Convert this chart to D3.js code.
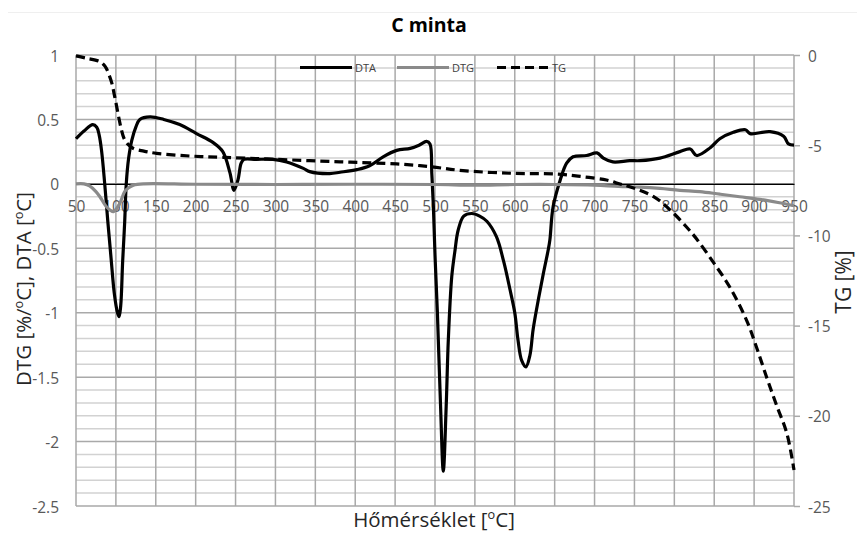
<!DOCTYPE html>
<html>
<head>
<meta charset="utf-8">
<script src="https://cdn.jsdelivr.net/npm/d3@7"></script>
<style>
  body { margin: 0; background: #fff; }
  svg { display: block; font-family: "Open Sans", "Liberation Sans", sans-serif; }
</style>
</head>
<body>
<svg id="chart" width="857" height="534"></svg>
<script>
// Axis ticks
const xTicks = [50, 100, 150, 200, 250, 300, 350, 400, 450, 500, 550, 600, 650, 700, 750, 800, 850, 900, 950];
const leftTicks = [1, 0.5, 0, -0.5, -1, -1.5, -2, -2.5];
const rightTicks = [0, -5, -10, -15, -20, -25];
const seriesNames = ["DTA", "DTG", "TG"];

// DTA [°C] against temperature
const dtaTemp = [50, 60, 71, 76, 79, 82, 86, 90, 94, 98, 102, 104, 106, 108.5, 111, 113, 116, 120, 125, 130, 143, 160, 180, 201, 222, 234, 243, 248, 253, 257, 260.5, 276, 297, 314, 335, 343, 368, 381, 402, 418, 435, 452, 469, 480, 489.5, 493.7, 496, 498, 500, 503, 507, 510.4, 514, 516.7, 521, 525, 529, 536, 546, 556, 565, 577, 586, 594, 600, 604, 608.6, 614, 619, 623, 629.5, 636, 642, 644, 648, 657, 665, 673, 690, 703, 711, 723, 744, 757, 782, 807, 820, 828, 845, 857, 874, 889, 895, 920, 937, 943, 950];
const dtaVal = [0.35, 0.41, 0.46, 0.44, 0.38, 0.26, 0.0, -0.3, -0.58, -0.85, -1.0, -1.03, -0.95, -0.6, -0.3, 0.0, 0.2, 0.34, 0.44, 0.5, 0.52, 0.5, 0.46, 0.39, 0.32, 0.25, 0.085, -0.05, 0.03, 0.16, 0.19, 0.19, 0.19, 0.17, 0.12, 0.095, 0.08, 0.09, 0.11, 0.14, 0.21, 0.26, 0.275, 0.3, 0.33, 0.31, 0.08, -0.18, -0.55, -1.0, -1.73, -2.23, -1.73, -1.21, -0.72, -0.52, -0.36, -0.25, -0.23, -0.25, -0.29, -0.41, -0.6, -0.82, -1.0, -1.21, -1.37, -1.42, -1.33, -1.13, -0.9, -0.69, -0.51, -0.435, -0.18, 0.03, 0.16, 0.21, 0.22, 0.24, 0.2, 0.17, 0.18, 0.18, 0.2, 0.25, 0.27, 0.22, 0.28, 0.35, 0.4, 0.42, 0.39, 0.405, 0.37, 0.31, 0.30];

// DTG [%/°C] against temperature
const dtgTemp = [50, 60, 67, 75, 80, 88.5, 97, 105, 111, 116, 122, 135, 200, 300, 400, 500, 550, 600, 650, 700, 730, 757, 782, 807, 832, 857, 882, 907, 930, 950];
const dtgVal = [0, 0, -0.016, -0.06, -0.1, -0.18, -0.215, -0.15, -0.06, -0.03, -0.01, 0, -0.003, -0.005, -0.003, -0.005, -0.01, -0.005, -0.005, -0.01, -0.02, -0.025, -0.035, -0.05, -0.06, -0.08, -0.1, -0.12, -0.145, -0.17];

// TG [%] against temperature (right axis)
const tgTemp = [50, 63, 80, 85, 88, 91, 95, 98, 101, 104, 107, 110, 114, 122, 135, 151, 193, 235, 297, 381, 452, 494, 535, 598, 653, 686, 715, 732, 744, 774, 795, 815, 828, 849, 870, 891, 903, 916, 928, 941, 950];
const tgVal = [-0.05, -0.18, -0.37, -0.55, -0.74, -1.05, -1.57, -2.2, -2.86, -3.55, -4.16, -4.6, -4.9, -5.18, -5.33, -5.45, -5.6, -5.67, -5.78, -5.92, -6.04, -6.19, -6.41, -6.56, -6.6, -6.75, -6.93, -7.15, -7.3, -7.85, -8.6, -9.52, -10.2, -11.5, -12.9, -14.75, -16.2, -17.9, -19.4, -20.97, -23.0];

const svg = d3.select("#chart");
const plot = { left: 76, right: 794, top: 55, bottom: 506 };

const x = d3.scaleLinear().domain([50, 950]).range([plot.left, plot.right]);
const y = d3.scaleLinear().domain([-2.5, 1]).range([plot.bottom, plot.top]);
const yR = d3.scaleLinear().domain([-25, 0]).range([plot.bottom, plot.top]);

const gridMajor = "#a9a9a9", gridMinor = "#d2d2d2", tickText = "#595959", titleText = "#262626";

// faint outer chart border at the top
svg.append("line").attr("x1", 8).attr("x2", 857).attr("y1", 12.5).attr("y2", 12.5)
  .attr("stroke", "#efefef").attr("stroke-width", 1);

// minor horizontal gridlines (every 0.1)
const minorVals = d3.range(-25, 11).map(i => i / 10).filter(v => Math.abs(Math.round(v * 10)) % 5 !== 0);
svg.append("g").selectAll("line").data(minorVals).join("line")
  .attr("x1", plot.left).attr("x2", plot.right)
  .attr("y1", d => y(d)).attr("y2", d => y(d))
  .attr("stroke", gridMinor).attr("stroke-width", 1.5);

// major horizontal gridlines
svg.append("g").selectAll("line").data(leftTicks).join("line")
  .attr("x1", plot.left).attr("x2", plot.right)
  .attr("y1", d => y(d)).attr("y2", d => y(d))
  .attr("stroke", gridMajor).attr("stroke-width", 1.5);

// vertical gridlines
svg.append("g").selectAll("line").data(xTicks).join("line")
  .attr("x1", d => x(d)).attr("x2", d => x(d))
  .attr("y1", plot.top).attr("y2", plot.bottom)
  .attr("stroke", gridMajor).attr("stroke-width", 1.5);

// x axis crossing at zero
const xAxis = svg.append("g").attr("transform", `translate(0,${y(0)})`)
  .call(d3.axisBottom(x).tickValues(xTicks).tickSize(0).tickSizeOuter(0).tickFormat(d => String(d)));
xAxis.select(".domain").attr("stroke", "#000").attr("stroke-width", 1.2);
xAxis.selectAll("text").attr("dy", null).attr("y", 22).attr("dominant-baseline", "central")
  .attr("fill", tickText).style("font-size", "15.5px").style("font-family", "'Open Sans', sans-serif");

// left axis
const yAxis = svg.append("g").attr("transform", `translate(${plot.left},0)`)
  .call(d3.axisLeft(y).tickValues(leftTicks).tickSize(0).tickPadding(17).tickFormat(d => String(d)));
yAxis.select(".domain").remove();
yAxis.selectAll("text").attr("dy", null).attr("dominant-baseline", "central")
  .attr("fill", tickText).style("font-size", "15.5px").style("font-family", "'Open Sans', sans-serif");

// right axis (TG)
const yRAxis = svg.append("g").attr("transform", `translate(${plot.right},0)`)
  .call(d3.axisRight(yR).tickValues(rightTicks).tickSize(6).tickPadding(8).tickFormat(d => String(d)));
yRAxis.select(".domain").remove();
yRAxis.selectAll(".tick line").attr("stroke", gridMajor).attr("stroke-width", 1.5);
yRAxis.selectAll("text").attr("dy", null).attr("dominant-baseline", "central")
  .attr("fill", tickText).style("font-size", "15.5px").style("font-family", "'Open Sans', sans-serif");

// curves
const curve = d3.curveCatmullRom.alpha(0.5);
const lineL = d3.line().x(d => x(d[0])).y(d => y(d[1])).curve(curve);
const lineR = d3.line().x(d => x(d[0])).y(d => yR(d[1])).curve(curve);

const styles = {
  DTA: { stroke: "#000", width: 3.2, dash: null },
  DTG: { stroke: "#8a8a8a", width: 3.2, dash: null },
  TG:  { stroke: "#000", width: 3.2, dash: "9,5" }
};

svg.append("path").datum(d3.zip(dtaTemp, dtaVal)).attr("d", lineL)
  .attr("fill", "none").attr("stroke", styles.DTA.stroke).attr("stroke-width", styles.DTA.width)
  .attr("stroke-linejoin", "round");
svg.append("path").datum(d3.zip(dtgTemp, dtgVal)).attr("d", lineL)
  .attr("fill", "none").attr("stroke", styles.DTG.stroke).attr("stroke-width", styles.DTG.width)
  .attr("stroke-linejoin", "round");
svg.append("path").datum(d3.zip(tgTemp, tgVal)).attr("d", lineR)
  .attr("fill", "none").attr("stroke", styles.TG.stroke).attr("stroke-width", styles.TG.width)
  .attr("stroke-dasharray", styles.TG.dash);

// legend
const legendX = [300, 397, 497];
const legend = svg.append("g").selectAll("g").data(seriesNames).join("g")
  .attr("transform", (d, i) => `translate(${legendX[i]},67.5)`);
legend.append("line").attr("x1", 0).attr("x2", 52).attr("y1", 0).attr("y2", 0)
  .attr("stroke", d => styles[d].stroke).attr("stroke-width", d => styles[d].width)
  .attr("stroke-dasharray", d => styles[d].dash);
legend.append("text").attr("x", 55).attr("y", 0).attr("dominant-baseline", "central")
  .attr("fill", "#404040").style("font-size", "11px").text(d => d);

// title
svg.append("text").attr("x", 429).attr("y", 32).attr("text-anchor", "middle")
  .attr("fill", "#000").style("font-size", "19.5px").style("font-weight", "bold").text("C minta");

// text with raised small "o" pieces for the degree sign
function degreeText(sel, parts, size) {
  const lift = size * 0.38;
  let raised = false;
  parts.forEach(p => {
    const t = sel.append("tspan").text(p);
    if (p === "o") {
      t.attr("dy", -lift).style("font-size", (size * 0.62) + "px");
      raised = true;
    } else if (raised) {
      t.attr("dy", lift);
      raised = false;
    }
  });
}

// x axis title
const xt = svg.append("text").attr("x", 434).attr("y", 527).attr("text-anchor", "middle")
  .attr("fill", titleText).style("font-size", "20.5px");
degreeText(xt, ["Hőmérséklet [", "o", "C]"], 20.5);

// left axis title
const ylt = svg.append("text").attr("transform", "translate(31,289) rotate(-90)")
  .attr("text-anchor", "middle").attr("fill", titleText).style("font-size", "20.5px");
degreeText(ylt, ["DTG [%/", "o", "C], DTA [", "o", "C]"], 20.5);

// right axis title
svg.append("text").attr("transform", "translate(851,282) rotate(-90)")
  .attr("text-anchor", "middle").attr("fill", titleText).style("font-size", "21px").text("TG [%]");
</script>
</body>
</html>
